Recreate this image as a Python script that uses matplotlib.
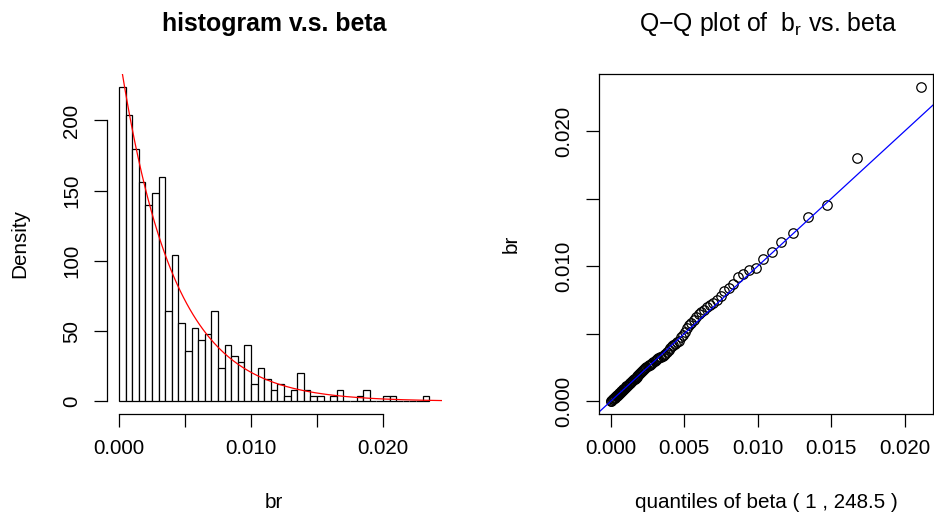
import numpy as np
import matplotlib
matplotlib.use("Agg")
import matplotlib.pyplot as plt

# histogram of br: counts in 0.0005-wide bins starting at 0 (n = 500)
binWidth = 0.0005
binCounts = [56, 51, 45, 39, 35, 37, 40, 16, 26, 14, 9, 13, 11, 12, 16, 6,
             10, 8, 7, 10, 3, 6, 4, 2, 3, 1, 2, 5, 2, 1, 1, 0, 1, 2, 0, 0,
             1, 2, 0, 0, 1, 1, 0, 0, 0, 0, 1]

# beta(1, 248.5) reference distribution
betaA = 1.0
betaB = 248.5

# sample quantiles of br used in the Q-Q plot (100 points)
brQuantiles = np.array([
    0.4, 4.95, 9.45, 13.95, 18.45, 22.95, 27.45, 31.95, 36.45, 40.95,
    45.45, 49.9, 54.9, 59.8, 64.8, 69.7, 74.7, 79.6, 84.5, 89.5,
    94.4, 99.4, 104.9, 110.5, 116.1, 121.7, 127.3, 132.9, 138.5, 144.1,
    149.7, 156.1, 162.6, 169.0, 175.5, 181.9, 188.4, 194.9, 201.5, 208.7,
    215.9, 223.1, 230.3, 237.5, 244.7, 251.8, 258.6, 265.4, 272.2, 279.0,
    285.8, 292.6, 299.9, 305.8, 312.1, 318.4, 324.7, 331.0, 337.3, 343.6,
    350.0, 365.5, 381.2, 397.0, 407.8, 417.5, 427.2, 436.9, 446.6, 475.0,
    492.0, 510.0, 540.0, 562.0, 582.0, 603.0, 625.0, 643.0, 660.0, 678.0,
    698.0, 714.8, 730.6, 746.3, 782.3, 814.6, 839.8, 868.7, 917.0, 941.0,
    972.0, 990.0, 1056.0, 1103.0, 1182.0, 1249.0, 1367.0, 1455.0, 1801.0, 2327.0,
]) * 1e-5

plt.rcParams["font.family"] = ["Liberation Sans", "DejaVu Sans"]
W, H = 934, 518
fig = plt.figure(figsize=(W / 100, H / 100), dpi=100)
lw = 0.9


def axRect(x0, x1, y0, y1):
    return [x0 / W, 1 - y1 / H, (x1 - x0) / W, (y1 - y0) / H]


def styleTicks(ax):
    ax.tick_params(direction="out", length=9.4, width=lw, labelsize=14.9, pad=9)
    for lbl in ax.get_yticklabels():
        lbl.set_rotation(90)
        lbl.set_va("center")


# ---- left: histogram with beta density ----
ax1 = fig.add_axes(axRect(106.6, 441.6, 74.2, 413.9))
counts = np.array(binCounts, dtype=float)
edges = np.arange(len(counts) + 1) * binWidth
density = counts / (counts.sum() * binWidth)
ax1.bar(edges[:-1], density, width=binWidth, align="edge",
        facecolor="white", edgecolor="black", linewidth=lw)
xr = edges[-1] - edges[0]
ax1.set_xlim(edges[0] - 0.04 * xr, edges[-1] + 0.04 * xr)
ax1.set_ylim(-0.04 * density.max(), density.max() * 1.04)

xs = np.linspace(0, ax1.get_xlim()[1], 201)
ax1.plot(xs, betaB * (1 - xs) ** (betaB - 1), color="#FF0000", linewidth=lw)

for s in ["top", "right"]:
    ax1.spines[s].set_visible(False)
for s in ["left", "bottom"]:
    ax1.spines[s].set_linewidth(lw)
ax1.spines["left"].set_bounds(0, 200)
ax1.spines["bottom"].set_bounds(0, 0.02)
ax1.set_xticks([0, 0.005, 0.01, 0.015, 0.02])
ax1.set_xticklabels(["0.000", "", "0.010", "", "0.020"])
ax1.set_yticks([0, 50, 100, 150, 200])
ax1.set_yticklabels(["0", "50", "100", "150", "200"])
styleTicks(ax1)

fig.text(274 / W, 1 - 31 / H, "histogram v.s. beta", ha="center", va="baseline",
         fontsize=17.9, fontweight="bold")
fig.text(274 / W, 1 - 502 / H, "br", ha="center", va="center", fontsize=14.9)
fig.text(20 / W, 1 - 244 / H, "Density", ha="center", va="center",
         rotation=90, fontsize=14.9)

# ---- right: Q-Q plot ----
ax2 = fig.add_axes(axRect(598.5, 933.3, 74.2, 413.9))
probs = (np.arange(1, len(brQuantiles) + 1) - 0.5) / len(brQuantiles)
theo = 1 - (1 - probs) ** (1 / betaB)
ax2.plot(theo, brQuantiles, linestyle="none", marker="o", markersize=6.8,
         markerfacecolor="none", markeredgecolor="black", markeredgewidth=lw)
tr = theo.max() - theo.min()
yr = brQuantiles.max() - brQuantiles.min()
ax2.set_xlim(theo.min() - 0.04 * tr, theo.max() + 0.04 * tr)
ax2.set_ylim(brQuantiles.min() - 0.04 * yr, brQuantiles.max() + 0.04 * yr)
ax2.axline((0, 0), slope=1, color="#0000FF", linewidth=lw)
for s in ax2.spines.values():
    s.set_linewidth(lw)
ax2.set_xticks([0, 0.005, 0.01, 0.015, 0.02])
ax2.set_xticklabels(["0.000", "0.005", "0.010", "0.015", "0.020"])
ax2.set_yticks([0, 0.005, 0.01, 0.015, 0.02])
ax2.set_yticklabels(["0.000", "", "0.010", "", "0.020"])
styleTicks(ax2)

fig.text(768 / W, 1 - 31 / H, r"Q−Q plot of  $\mathregular{b_r}$ vs. beta",
         ha="center", va="baseline", fontsize=17.9)
fig.text(766 / W, 1 - 502 / H, "quantiles of beta ( 1 , 248.5 )",
         ha="center", va="center", fontsize=14.9)
fig.text(511 / W, 1 - 244 / H, "br", ha="center", va="center",
         rotation=90, fontsize=14.9)

fig.savefig("out.png", dpi=100)
